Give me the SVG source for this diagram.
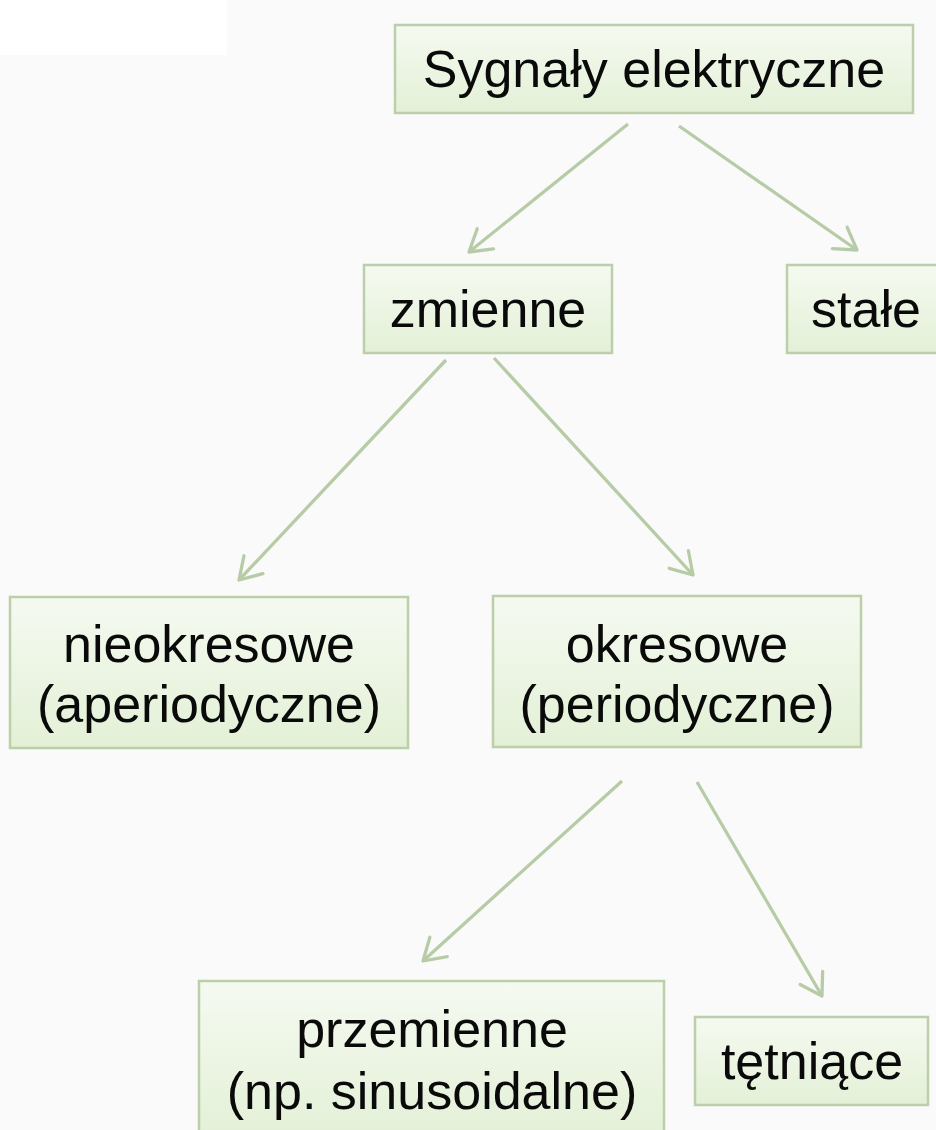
<svg xmlns="http://www.w3.org/2000/svg" width="936" height="1130" viewBox="0 0 936 1130">
  <style>
    .box { fill: url(#g); stroke: #bccfaa; stroke-width: 2.5; }
    .t { font-family: "Liberation Sans", Arial, sans-serif; font-size: 52px; fill: #0a0a0a; text-anchor: middle; }
    .c { stroke: #b7cca6; stroke-width: 3.3; fill: none; marker-end: url(#a); }
  </style>
  <defs>
    <linearGradient id="g" x1="0" y1="0" x2="0" y2="1">
      <stop offset="0" stop-color="#f5faf1"/>
      <stop offset="1" stop-color="#e3f0d6"/>
    </linearGradient>
    <marker id="a" markerUnits="userSpaceOnUse" markerWidth="40" markerHeight="40" viewBox="-30 -20 40 40" refX="0" refY="0" orient="auto">
      <path d="M -21 -13 L 0 0 L -21 13" fill="none" stroke="#b7cca6" stroke-width="3.3" stroke-linecap="round" stroke-linejoin="round"/>
    </marker>
  </defs>
  <rect x="0" y="0" width="936" height="1130" fill="#fafafa"/>
  <rect x="0" y="0" width="227" height="55" fill="#ffffff"/>

  <g id="connectors">
    <line class="c" x1="628" y1="124" x2="469" y2="252"/>
    <line class="c" x1="679" y1="126" x2="857" y2="250"/>
    <line class="c" x1="446" y1="360" x2="239" y2="580"/>
    <line class="c" x1="494" y1="358" x2="693" y2="575"/>
    <line class="c" x1="622" y1="781" x2="423" y2="961"/>
    <line class="c" x1="697" y1="782" x2="822" y2="996"/>
  </g>

  <g id="n-sygnaly">
    <rect class="box" x="395" y="25" width="518" height="88"/>
    <text class="t" x="654" y="87">Sygnały elektryczne</text>
  </g>
  <g id="n-zmienne">
    <rect class="box" x="364" y="265" width="248" height="88"/>
    <text class="t" x="488" y="327">zmienne</text>
  </g>
  <g id="n-stale">
    <rect class="box" x="787" y="265" width="160" height="88"/>
    <text class="t" x="866" y="327">stałe</text>
  </g>
  <g id="n-nieokresowe">
    <rect class="box" x="10" y="597" width="398" height="151"/>
    <text class="t" x="209" y="662">nieokresowe</text>
    <text class="t" x="209" y="722">(aperiodyczne)</text>
  </g>
  <g id="n-okresowe">
    <rect class="box" x="493" y="596" width="368" height="151"/>
    <text class="t" x="677" y="662">okresowe</text>
    <text class="t" x="677" y="722">(periodyczne)</text>
  </g>
  <g id="n-przemienne">
    <rect class="box" x="199" y="981" width="465" height="160"/>
    <text class="t" x="432" y="1047">przemienne</text>
    <text class="t" x="432" y="1109">(np. sinusoidalne)</text>
  </g>
  <g id="n-tetniace">
    <rect class="box" x="695" y="1017" width="233" height="88"/>
    <text class="t" x="812" y="1079">tętniące</text>
  </g>
</svg>
